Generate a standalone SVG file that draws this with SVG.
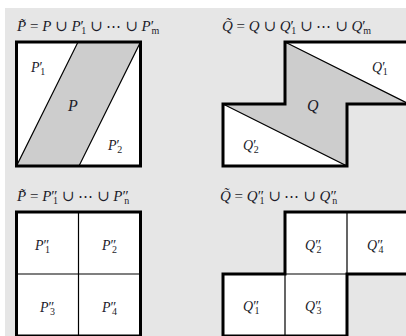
<svg xmlns="http://www.w3.org/2000/svg" width="406" height="336" viewBox="0 0 406 336">
<style>
text{font-family:"Liberation Serif","DejaVu Serif",serif;fill:#1c1c2a;font-size:14px}
.t{font-size:15px}
.i{font-style:italic}
.s{font-size:10px;font-style:normal}
.thick{fill:none;stroke:#000;stroke-width:3;stroke-linejoin:miter}
.thin{fill:none;stroke:#000;stroke-width:1.2}
.w{fill:#fff}
.g{fill:#cdcdcd;stroke:#000;stroke-width:1.2}
</style>
<rect x="0" y="0" width="406" height="336" fill="#fff"/>
<rect x="5" y="8" width="401" height="328" fill="#e6e6e6"/>

<g id="panel-P">
  <text class="t" x="17" y="31"><tspan class="i">P̃</tspan> = <tspan class="i">P</tspan> ∪ <tspan class="i">P</tspan>′<tspan class="s" dx="-2.5" dy="3">1</tspan><tspan dy="-3"> ∪ ⋯ ∪ </tspan><tspan class="i">P</tspan>′<tspan class="s i" dx="-2.5" dy="3">m</tspan></text>
  <rect class="w" x="16.5" y="42" width="124" height="124"/>
  <polygon id="P" class="g" points="78,42 140.5,42 79,166 16.5,166"/>
  <rect class="thick" x="16.5" y="42" width="124" height="124"/>
  <g id="P1p"><text x="31" y="72"><tspan class="i">P</tspan>′<tspan class="s" dx="-2.5" dy="3">1</tspan></text></g>
  <g id="Plabel"><text x="68" y="111" class="i" style="font-size:16px">P</text></g>
  <g id="P2p"><text x="108" y="150"><tspan class="i">P</tspan>′<tspan class="s" dx="-2.5" dy="3">2</tspan></text></g>
</g>

<g id="panel-Q">
  <text class="t" x="222" y="31"><tspan class="i">Q̃</tspan> = <tspan class="i">Q</tspan> ∪ <tspan class="i">Q</tspan>′<tspan class="s" dx="-2.5" dy="3">1</tspan><tspan dy="-3"> ∪ ⋯ ∪ </tspan><tspan class="i">Q</tspan>′<tspan class="s i" dx="-2.5" dy="3">m</tspan></text>
  <polygon class="w" points="285,42 409,42 409,104 347,104 347,166 223,166 223,104 285,104"/>
  <polygon id="Q" class="g" points="285,42 409,104 347,104 347,166 223,104 285,104"/>
  <polygon class="thick" points="285,42 409,42 409,104 347,104 347,166 223,166 223,104 285,104"/>
  <g id="Q1p"><text x="372" y="72"><tspan class="i">Q</tspan>′<tspan class="s" dx="-2.5" dy="3">1</tspan></text></g>
  <g id="Qlabel"><text x="307" y="111" class="i" style="font-size:16px">Q</text></g>
  <g id="Q2p"><text x="243" y="150"><tspan class="i">Q</tspan>′<tspan class="s" dx="-2.5" dy="3">2</tspan></text></g>
</g>

<g id="panel-P2">
  <text class="t" x="17" y="201"><tspan class="i">P̃</tspan> = <tspan class="i">P</tspan>″<tspan class="s" dx="-4.5" dy="3">1</tspan><tspan dy="-3"> ∪ ⋯ ∪ </tspan><tspan class="i">P</tspan>″<tspan class="s i" dx="-4.5" dy="3">n</tspan></text>
  <rect class="w" x="16.5" y="212" width="124" height="124"/>
  <path class="thin" d="M78.5,212V336M16.5,274H140.5"/>
  <rect class="thick" x="16.5" y="212" width="124" height="124"/>
  <g id="P1pp"><text x="35" y="250"><tspan class="i">P</tspan>″<tspan class="s" dx="-4.5" dy="3">1</tspan></text></g>
  <g id="P2pp"><text x="102" y="250"><tspan class="i">P</tspan>″<tspan class="s" dx="-4.5" dy="3">2</tspan></text></g>
  <g id="P3pp"><text x="40" y="312"><tspan class="i">P</tspan>″<tspan class="s" dx="-4.5" dy="3">3</tspan></text></g>
  <g id="P4pp"><text x="102" y="312"><tspan class="i">P</tspan>″<tspan class="s" dx="-4.5" dy="3">4</tspan></text></g>
</g>

<g id="panel-Q2">
  <text class="t" x="220" y="201"><tspan class="i">Q̃</tspan> = <tspan class="i">Q</tspan>″<tspan class="s" dx="-4.5" dy="3">1</tspan><tspan dy="-3"> ∪ ⋯ ∪ </tspan><tspan class="i">Q</tspan>″<tspan class="s i" dx="-4.5" dy="3">n</tspan></text>
  <polygon class="w" points="285,212 409,212 409,274 347,274 347,336 223,336 223,274 285,274"/>
  <path class="thin" d="M347,212V274M285,274V336M285,274H347"/>
  <polygon class="thick" points="285,212 409,212 409,274 347,274 347,336 223,336 223,274 285,274"/>
  <g id="Q2pp"><text x="305" y="250"><tspan class="i">Q</tspan>″<tspan class="s" dx="-4.5" dy="3">2</tspan></text></g>
  <g id="Q4pp"><text x="367" y="250"><tspan class="i">Q</tspan>″<tspan class="s" dx="-4.5" dy="3">4</tspan></text></g>
  <g id="Q1pp"><text x="243" y="311"><tspan class="i">Q</tspan>″<tspan class="s" dx="-4.5" dy="3">1</tspan></text></g>
  <g id="Q3pp"><text x="305" y="311"><tspan class="i">Q</tspan>″<tspan class="s" dx="-4.5" dy="3">3</tspan></text></g>
</g>
</svg>
